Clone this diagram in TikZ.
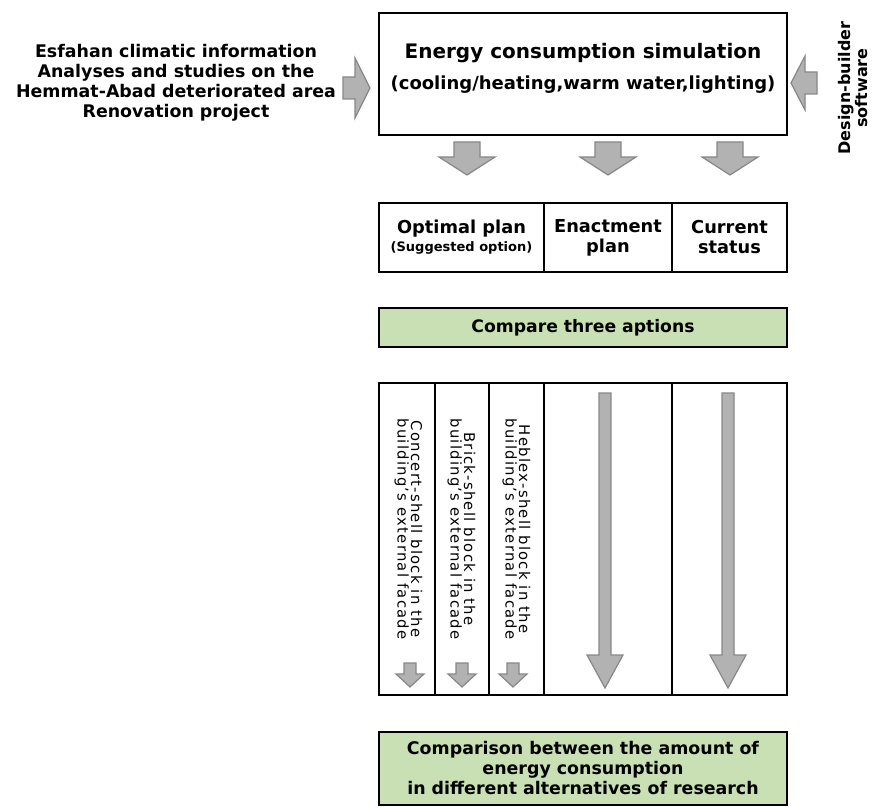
\documentclass[tikz,border=0pt]{standalone}
\usepackage{fontspec}
\setmainfont{DejaVu Sans}
\usetikzlibrary{positioning}

\definecolor{boxgreen}{RGB}{200,224,180}
\definecolor{arrgray}{RGB}{178,178,178}
\definecolor{arredge}{RGB}{135,135,135}

\begin{document}
\begin{tikzpicture}[x=0.5pt, y=-0.5pt,
	box/.style={draw, line width=1pt, inner sep=0pt, align=center},
	greenbox/.style={box, fill=boxgreen},
	plantxt/.style={font=\bfseries\fontsize{8.9}{10}\selectfont},
	arrstyle/.style={fill=arrgray, draw=arredge, line width=0.6pt, line join=miter},
	bigtxt/.style={font=\bfseries\fontsize{8.7}{10}\selectfont, align=center, inner sep=0pt},
	coltxt/.style={font=\fontsize{7.4}{6.8}\selectfont\addfontfeature{LetterSpace=8.5}, align=center, inner sep=0pt, rotate=-90},
	pics/barrow/.style n args={4}{code={
		\draw[arrstyle] (-#2,0) -- (#2,0) -- (#2,#1-#4) -- (#3,#1-#4) -- (0,#1)
			-- (-#3,#1-#4) -- (-#2,#1-#4) -- cycle;}}]
	\useasboundingbox (0,0) rectangle (873,808);

	% simulation box and its inputs
	\node[box, minimum width=204pt, minimum height=61pt] (sim) at (583,74) {};
	\node[font=\bfseries\fontsize{10}{12}\selectfont, inner sep=0pt] (simtitle) at (583,53) {Energy consumption simulation};
	\node[font=\bfseries\fontsize{9}{10}\selectfont, inner sep=0pt] (simsub) at (583,85) {(cooling/heating,warm water,lighting)};
	\node[bigtxt] (inputs) at (176,83) {Esfahan climatic information\\Analyses and studies on the\\Hemmat-Abad deteriorated area\\Renovation project};
	\node[font=\bfseries\fontsize{8}{8.6}\selectfont, align=center, inner sep=0pt, rotate=90] (soft) at (853,88) {Design-builder\\software};
	\pic[rotate=90] at (343,88) {barrow={27}{11}{30}{15}};
	\pic[rotate=-90] at (817,83) {barrow={26}{11}{27}{14}};
	\foreach \x in {467,608,730}
		\pic at (\x,142) {barrow={33}{13}{28}{18}};

	% three plans
	\node[box, plantxt, minimum width=82.5pt, minimum height=34.5pt] (optimal) at (461.5,237.5)
		{Optimal plan\\[-1pt]{\fontsize{6.5}{8}\selectfont(Suggested option)}};
	\node[box, plantxt, minimum width=64pt, minimum height=34.5pt] (enact) at (608,237.5) {Enactment\\plan};
	\node[box, plantxt, minimum width=57.5pt, minimum height=34.5pt] (current) at (729.5,237.5) {Current\\status};

	\node[greenbox, minimum width=204pt, minimum height=19.5pt, font=\bfseries\fontsize{8.6}{10}\selectfont] (compare) at (583,327.5) {Compare three aptions};

	% columns
	\node[box, minimum width=28pt, minimum height=156pt] (c1) at (407,539) {};
	\node[box, minimum width=27pt, minimum height=156pt] (c2) at (462,539) {};
	\node[box, minimum width=27.5pt, minimum height=156pt] (c3) at (516.5,539) {};
	\node[box, minimum width=64pt, minimum height=156pt] (c4) at (608,539) {};
	\node[box, minimum width=57.5pt, minimum height=156pt] (c5) at (729.5,539) {};
	\node[coltxt] (concert) at (408.5,529) {Concert-shell block in the\\building's external facade};
	\node[coltxt] (brick) at (461.5,529) {Brick-shell block in the\\building's external facade};
	\node[coltxt] (heblex) at (516.5,529) {Heblex-shell block in the\\building's external facade};
	\foreach \x in {410,462,513}
		\pic at (\x,663) {barrow={24}{6}{14}{13}};
	\foreach \x in {605,728}
		\pic at (\x,393) {barrow={295}{6}{18}{33}};

	% result
	\node[greenbox, minimum width=204pt, minimum height=36.5pt, font=\bfseries\fontsize{8.7}{10}\selectfont] (result) at (583,768.5)
		{Comparison between the amount of\\energy consumption\\in different alternatives of research};
\end{tikzpicture}
\end{document}
